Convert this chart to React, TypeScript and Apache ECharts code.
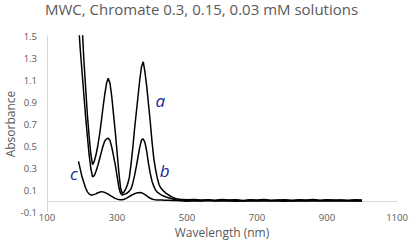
import React, { useEffect, useRef } from "react";
import * as echarts from "echarts";

const chartTitle = "MWC, Chromate 0.3, 0.15, 0.03 mM solutions";
const xAxisName = "Wavelength (nm)";
const yAxisName = "Absorbance";
const seriesNames = ["a", "b", "c"];

// wavelength grid (nm)
const wavelengthsMain = [
  190, 195, 200, 205, 210, 215, 220, 225, 230, 235, 240, 245, 250, 255, 260, 265, 270, 275, 280,
  285, 290, 295, 300, 305, 310, 315, 320, 325, 330, 335, 340, 345, 350, 355, 360, 365, 370, 375,
  380, 385, 390, 395, 400, 405, 410, 415, 420, 425, 430, 435, 440, 445, 450, 455, 460, 465, 470,
];
const wavelengthsTail = [
  480, 500, 520, 540, 560, 580, 600, 620, 640, 660, 680, 700, 720, 740, 760, 780, 800, 820, 840,
  860, 880, 900, 920, 940, 960, 980, 1000,
];

// a: 0.3 mM
const absA = [
  2.9, 2.2, 1.62, 1.3, 1.05, 0.8, 0.6, 0.43, 0.33, 0.36, 0.42, 0.5, 0.6, 0.72, 0.85, 0.97, 1.07,
  1.115, 1.07, 0.95, 0.79, 0.63, 0.45, 0.27, 0.12, 0.07, 0.08, 0.11, 0.15, 0.21, 0.33, 0.48, 0.65,
  0.8, 0.95, 1.1, 1.22, 1.265, 1.17, 1.04, 0.88, 0.72, 0.54, 0.39, 0.29, 0.21, 0.15, 0.12, 0.1,
  0.085, 0.07, 0.06, 0.05, 0.04, 0.033, 0.025, 0.02,
];
const absATail = [
  0.016, 0.011, 0.014, 0.008, 0.012, 0.006, 0.013, 0.009, 0.011, 0.005, 0.012, 0.008, 0.014, 0.007,
  0.01, 0.012, 0.006, 0.011, 0.009, 0.013, 0.007, 0.012, 0.008, 0.01, 0.006, 0.011, 0.009,
];

// b: 0.15 mM
const absB = [
  1.62, 1.38, 1.18, 0.98, 0.78, 0.6, 0.43, 0.3, 0.22, 0.23, 0.27, 0.32, 0.38, 0.44, 0.5, 0.545,
  0.565, 0.57, 0.55, 0.49, 0.41, 0.33, 0.23, 0.13, 0.07, 0.055, 0.06, 0.065, 0.075, 0.09, 0.11,
  0.16, 0.23, 0.31, 0.4, 0.49, 0.555, 0.565, 0.53, 0.45, 0.34, 0.25, 0.18, 0.135, 0.1, 0.08, 0.07,
  0.058, 0.05, 0.043, 0.037, 0.032, 0.027, 0.022, 0.018, 0.014, 0.01,
];
const absBTail = [
  0.008, 0.004, 0.009, 0.003, 0.007, 0.002, 0.008, 0.004, 0.006, 0.001, 0.007, 0.003, 0.008, 0.002,
  0.006, 0.004, 0.001, 0.007, 0.003, 0.008, 0.002, 0.006, 0.004, 0.007, 0.002, 0.005, 0.003,
];

// c: 0.03 mM
const absC = [
  0.36, 0.29, 0.22, 0.17, 0.12, 0.085, 0.065, 0.055, 0.055, 0.06, 0.065, 0.075, 0.08, 0.085, 0.083,
  0.078, 0.07, 0.062, 0.052, 0.042, 0.032, 0.024, 0.017, 0.013, 0.011, 0.012, 0.016, 0.022, 0.03,
  0.04, 0.05, 0.058, 0.066, 0.072, 0.076, 0.077, 0.074, 0.068, 0.058, 0.046, 0.034, 0.025, 0.018,
  0.014, 0.011, 0.01, 0.009, 0.008, 0.008, 0.007, 0.007, 0.006, 0.006, 0.005, 0.006, 0.005, 0.005,
];
const absCTail = [
  0.002, -0.002, 0.003, 0.0, 0.004, -0.001, 0.002, 0.001, -0.002, 0.003, 0.0, 0.002, -0.001, 0.003,
  0.001, -0.002, 0.002, 0.0, 0.003, -0.001, 0.002, 0.001, -0.001, 0.003, 0.0, 0.002, 0.001,
];

// label anchor positions (wavelength, absorbance)
const labelCoords = [
  [424, 0.918],
  [436, 0.28],
  [177, 0.25],
];

export default function App() {
  const ref = useRef<HTMLDivElement>(null);
  useEffect(() => {
    if (!ref.current) return;
    const chart = echarts.init(ref.current, null, { renderer: "svg" });
    const wl = [...wavelengthsMain, ...wavelengthsTail];
    const all = [
      [...absA, ...absATail],
      [...absB, ...absBTail],
      [...absC, ...absCTail],
    ];
    const gray = "#595959";
    const font = "Open Sans";
    chart.setOption({
      animation: false,
      title: {
        text: chartTitle,
        left: 45,
        top: 1,
        padding: 0,
        textStyle: { fontSize: 15, fontWeight: "normal", color: gray, fontFamily: font },
      },
      grid: {
        left: 47,
        right: 17,
        top: 36,
        bottom: 31,
        containLabel: false,
        outerBoundsMode: "none",
      },
      xAxis: {
        type: "value",
        min: 100,
        max: 1100,
        interval: 200,
        axisLine: { show: true, onZero: true, lineStyle: { color: "#d9d9d9", width: 1 } },
        axisTick: { show: false },
        splitLine: { show: false },
        axisLabel: {
          color: gray,
          fontSize: 9.5,
          lineHeight: 11,
          fontFamily: font,
          margin: 0,
          formatter: (v: number) => String(v),
        },
        name: xAxisName,
        nameLocation: "middle",
        nameGap: 13,
        nameMoveOverlap: false,
        nameTextStyle: { fontSize: 12, lineHeight: 14, color: gray, fontFamily: font },
      },
      yAxis: {
        type: "value",
        min: -0.1,
        max: 1.5,
        interval: 0.2,
        axisLine: { show: true, onZero: false, lineStyle: { color: "#d9d9d9", width: 1 } },
        axisTick: { show: false },
        splitLine: { show: false },
        axisLabel: {
          color: gray,
          fontSize: 9.5,
          fontFamily: font,
          margin: 10,
          formatter: (v: number) => (Math.round(v * 10) / 10).toFixed(1),
        },
        name: yAxisName,
        nameLocation: "middle",
        nameGap: 31,
        nameMoveOverlap: false,
        nameTextStyle: { fontSize: 12, color: gray, fontFamily: font },
      },
      series: all.map((vals, i) => ({
        type: "line",
        name: seriesNames[i],
        symbol: "none",
        clip: true,
        lineStyle: { color: "#000", width: 1.5 },
        data: wl.map((w, j) => [w, vals[j]]),
        markPoint: {
          symbol: "circle",
          symbolSize: 1,
          silent: true,
          itemStyle: { color: "rgba(0,0,0,0)" },
          label: {
            show: true,
            position: "inside",
            formatter: seriesNames[i],
            fontStyle: "italic",
            fontSize: 17,
            fontFamily: font,
            color: "#1c2a8c",
          },
          data: [{ coord: labelCoords[i] }],
        },
      })),
    });
    return () => chart.dispose();
  }, []);
  return (
    <div
      ref={ref}
      style={{ position: "absolute", left: 0, top: 0, width: 414, height: 243 }}
    />
  );
}
